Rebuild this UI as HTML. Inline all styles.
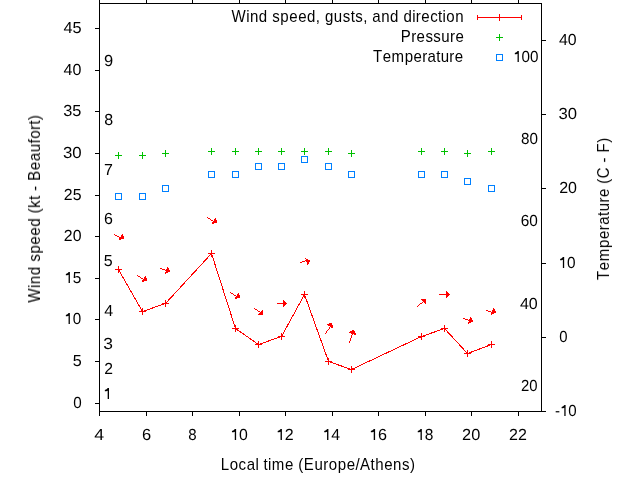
<!DOCTYPE html>
<html><head><meta charset="utf-8"><style>
html,body{margin:0;padding:0;background:#fff;width:640px;height:480px;overflow:hidden}
svg{display:block}
text{font-family:"Liberation Sans",sans-serif;font-size:16px;fill:#000;font-kerning:none}
.g,.g text{text-rendering:geometricPrecision}
.t{opacity:0.999}
</style></head><body>
<svg width="640" height="480" viewBox="0 0 640 480">
<rect width="640" height="480" fill="#fff"/>
<g shape-rendering="crispEdges">
<rect x="99" y="3" width="443" height="1" fill="#000"/>
<rect x="99" y="411" width="443" height="1" fill="#000"/>
<rect x="99" y="3" width="1" height="409" fill="#000"/>
<rect x="541" y="3" width="1" height="409" fill="#000"/>
<rect x="99" y="412" width="1" height="4" fill="#000"/>
<rect x="99" y="0" width="1" height="3" fill="#000"/>
<rect x="146" y="412" width="1" height="4" fill="#000"/>
<rect x="146" y="0" width="1" height="3" fill="#000"/>
<rect x="192" y="412" width="1" height="4" fill="#000"/>
<rect x="192" y="0" width="1" height="3" fill="#000"/>
<rect x="239" y="412" width="1" height="4" fill="#000"/>
<rect x="239" y="0" width="1" height="3" fill="#000"/>
<rect x="285" y="412" width="1" height="4" fill="#000"/>
<rect x="285" y="0" width="1" height="3" fill="#000"/>
<rect x="332" y="412" width="1" height="4" fill="#000"/>
<rect x="332" y="0" width="1" height="3" fill="#000"/>
<rect x="378" y="412" width="1" height="4" fill="#000"/>
<rect x="378" y="0" width="1" height="3" fill="#000"/>
<rect x="425" y="412" width="1" height="4" fill="#000"/>
<rect x="425" y="0" width="1" height="3" fill="#000"/>
<rect x="471" y="412" width="1" height="4" fill="#000"/>
<rect x="471" y="0" width="1" height="3" fill="#000"/>
<rect x="518" y="412" width="1" height="4" fill="#000"/>
<rect x="518" y="0" width="1" height="3" fill="#000"/>
<rect x="95" y="403" width="4" height="1" fill="#000"/>
<rect x="95" y="361" width="4" height="1" fill="#000"/>
<rect x="95" y="319" width="4" height="1" fill="#000"/>
<rect x="95" y="278" width="4" height="1" fill="#000"/>
<rect x="95" y="236" width="4" height="1" fill="#000"/>
<rect x="95" y="195" width="4" height="1" fill="#000"/>
<rect x="95" y="153" width="4" height="1" fill="#000"/>
<rect x="95" y="111" width="4" height="1" fill="#000"/>
<rect x="95" y="70" width="4" height="1" fill="#000"/>
<rect x="95" y="28" width="4" height="1" fill="#000"/>
<rect x="542" y="411" width="4" height="1" fill="#000"/>
<rect x="542" y="337" width="4" height="1" fill="#000"/>
<rect x="542" y="263" width="4" height="1" fill="#000"/>
<rect x="542" y="188" width="4" height="1" fill="#000"/>
<rect x="542" y="114" width="4" height="1" fill="#000"/>
<rect x="542" y="40" width="4" height="1" fill="#000"/>
<rect x="477" y="17" width="45" height="1" fill="#ff0000"/>
<rect x="477" y="15" width="1" height="5" fill="#ff0000"/>
<rect x="521" y="15" width="1" height="5" fill="#ff0000"/>
<rect x="499" y="14" width="1" height="7" fill="#ff0000"/>
</g>
<g>
<polyline points="118.5,269.5 142.5,311.5 165.5,303.5 211.5,253.5 235.5,328.5 258.5,344.5 281.5,336.5 304.5,294.5 328.5,361.5 351.5,369.5 421.5,336.5 444.5,328.5 467.5,353.5 491.5,344.5" fill="none" stroke="#ff0000" stroke-width="1" shape-rendering="crispEdges"/>
<rect x="115" y="269" width="7" height="1" fill="#ff0000"/><rect x="118" y="266" width="1" height="7" fill="#ff0000"/>
<rect x="139" y="311" width="7" height="1" fill="#ff0000"/><rect x="142" y="308" width="1" height="7" fill="#ff0000"/>
<rect x="162" y="303" width="7" height="1" fill="#ff0000"/><rect x="165" y="300" width="1" height="7" fill="#ff0000"/>
<rect x="208" y="253" width="7" height="1" fill="#ff0000"/><rect x="211" y="250" width="1" height="7" fill="#ff0000"/>
<rect x="232" y="328" width="7" height="1" fill="#ff0000"/><rect x="235" y="325" width="1" height="7" fill="#ff0000"/>
<rect x="255" y="344" width="7" height="1" fill="#ff0000"/><rect x="258" y="341" width="1" height="7" fill="#ff0000"/>
<rect x="278" y="336" width="7" height="1" fill="#ff0000"/><rect x="281" y="333" width="1" height="7" fill="#ff0000"/>
<rect x="301" y="294" width="7" height="1" fill="#ff0000"/><rect x="304" y="291" width="1" height="7" fill="#ff0000"/>
<rect x="325" y="361" width="7" height="1" fill="#ff0000"/><rect x="328" y="358" width="1" height="7" fill="#ff0000"/>
<rect x="348" y="369" width="7" height="1" fill="#ff0000"/><rect x="351" y="366" width="1" height="7" fill="#ff0000"/>
<rect x="418" y="336" width="7" height="1" fill="#ff0000"/><rect x="421" y="333" width="1" height="7" fill="#ff0000"/>
<rect x="441" y="328" width="7" height="1" fill="#ff0000"/><rect x="444" y="325" width="1" height="7" fill="#ff0000"/>
<rect x="464" y="353" width="7" height="1" fill="#ff0000"/><rect x="467" y="350" width="1" height="7" fill="#ff0000"/>
<rect x="488" y="344" width="7" height="1" fill="#ff0000"/><rect x="491" y="341" width="1" height="7" fill="#ff0000"/>
<rect x="115" y="155" width="7" height="1" fill="#00c000"/><rect x="118" y="152" width="1" height="7" fill="#00c000"/>
<rect x="139" y="155" width="7" height="1" fill="#00c000"/><rect x="142" y="152" width="1" height="7" fill="#00c000"/>
<rect x="162" y="153" width="7" height="1" fill="#00c000"/><rect x="165" y="150" width="1" height="7" fill="#00c000"/>
<rect x="208" y="151" width="7" height="1" fill="#00c000"/><rect x="211" y="148" width="1" height="7" fill="#00c000"/>
<rect x="232" y="151" width="7" height="1" fill="#00c000"/><rect x="235" y="148" width="1" height="7" fill="#00c000"/>
<rect x="255" y="151" width="7" height="1" fill="#00c000"/><rect x="258" y="148" width="1" height="7" fill="#00c000"/>
<rect x="278" y="151" width="7" height="1" fill="#00c000"/><rect x="281" y="148" width="1" height="7" fill="#00c000"/>
<rect x="301" y="151" width="7" height="1" fill="#00c000"/><rect x="304" y="148" width="1" height="7" fill="#00c000"/>
<rect x="325" y="151" width="7" height="1" fill="#00c000"/><rect x="328" y="148" width="1" height="7" fill="#00c000"/>
<rect x="348" y="153" width="7" height="1" fill="#00c000"/><rect x="351" y="150" width="1" height="7" fill="#00c000"/>
<rect x="418" y="151" width="7" height="1" fill="#00c000"/><rect x="421" y="148" width="1" height="7" fill="#00c000"/>
<rect x="441" y="151" width="7" height="1" fill="#00c000"/><rect x="444" y="148" width="1" height="7" fill="#00c000"/>
<rect x="464" y="153" width="7" height="1" fill="#00c000"/><rect x="467" y="150" width="1" height="7" fill="#00c000"/>
<rect x="488" y="151" width="7" height="1" fill="#00c000"/><rect x="491" y="148" width="1" height="7" fill="#00c000"/>
<rect x="115.5" y="193.5" width="6" height="6" fill="none" stroke="#0080ff"/>
<rect x="139.5" y="193.5" width="6" height="6" fill="none" stroke="#0080ff"/>
<rect x="162.5" y="185.5" width="6" height="6" fill="none" stroke="#0080ff"/>
<rect x="208.5" y="171.5" width="6" height="6" fill="none" stroke="#0080ff"/>
<rect x="232.5" y="171.5" width="6" height="6" fill="none" stroke="#0080ff"/>
<rect x="255.5" y="163.5" width="6" height="6" fill="none" stroke="#0080ff"/>
<rect x="278.5" y="163.5" width="6" height="6" fill="none" stroke="#0080ff"/>
<rect x="301.5" y="156.5" width="6" height="6" fill="none" stroke="#0080ff"/>
<rect x="325.5" y="163.5" width="6" height="6" fill="none" stroke="#0080ff"/>
<rect x="348.5" y="171.5" width="6" height="6" fill="none" stroke="#0080ff"/>
<rect x="418.5" y="171.5" width="6" height="6" fill="none" stroke="#0080ff"/>
<rect x="441.5" y="171.5" width="6" height="6" fill="none" stroke="#0080ff"/>
<rect x="464.5" y="178.5" width="6" height="6" fill="none" stroke="#0080ff"/>
<rect x="488.5" y="185.5" width="6" height="6" fill="none" stroke="#0080ff"/>
<path fill="#ff0000" d="M114 234h1v1h-1zM122 234h1v1h-1zM115 235h2v1h-2zM121 235h2v1h-2zM117 236h2v1h-2zM121 236h3v1h-3zM119 237h5v1h-5zM119 238h5v1h-5zM119 239h2v1h-2zM137 275h1v1h-1zM138 276h2v1h-2zM145 276h1v1h-1zM140 277h1v1h-1zM144 277h2v1h-2zM141 278h2v1h-2zM144 278h3v1h-3zM143 279h4v1h-4zM142 280h5v1h-5zM142 281h2v1h-2zM167 267h1v1h-1zM160 268h2v1h-2zM167 268h2v1h-2zM162 269h3v1h-3zM166 269h3v1h-3zM165 270h5v1h-5zM166 271h4v1h-4zM165 272h3v1h-3zM165 273h1v1h-1zM207 217h1v1h-1zM208 218h2v1h-2zM215 218h1v1h-1zM210 219h1v1h-1zM214 219h2v1h-2zM211 220h2v1h-2zM214 220h3v1h-3zM213 221h4v1h-4zM212 222h5v1h-5zM212 223h2v1h-2zM230 292h1v1h-1zM231 293h2v1h-2zM238 293h1v1h-1zM233 294h1v1h-1zM237 294h2v1h-2zM234 295h2v1h-2zM237 295h3v1h-3zM236 296h4v1h-4zM235 297h5v1h-5zM235 298h2v1h-2zM254 308h1v1h-1zM255 309h2v1h-2zM257 310h1v1h-1zM262 310h1v1h-1zM258 311h2v1h-2zM261 311h2v1h-2zM260 312h3v1h-3zM259 313h4v1h-4zM258 314h5v1h-5zM283 300h1v1h-1zM283 301h2v1h-2zM283 302h3v1h-3zM277 303h10v1h-10zM283 304h3v1h-3zM283 305h2v1h-2zM283 306h1v1h-1zM305 258h1v1h-1zM306 259h2v1h-2zM305 260h5v1h-5zM302 261h3v1h-3zM306 261h4v1h-4zM300 262h2v1h-2zM307 262h2v1h-2zM307 263h2v1h-2zM307 264h1v1h-1zM329 323h3v1h-3zM327 324h5v1h-5zM328 325h5v1h-5zM330 326h3v1h-3zM329 327h1v1h-1zM331 327h2v1h-2zM329 328h1v1h-1zM328 329h1v1h-1zM327 330h1v1h-1zM326 331h1v1h-1zM326 332h1v1h-1zM325 333h1v1h-1zM352 330h2v1h-2zM350 331h5v1h-5zM349 332h6v1h-6zM351 333h5v1h-5zM352 334h1v1h-1zM354 334h2v1h-2zM351 335h1v1h-1zM351 336h1v1h-1zM351 337h1v1h-1zM350 338h1v1h-1zM350 339h1v1h-1zM350 340h1v1h-1zM349 341h1v1h-1zM349 342h1v1h-1zM421 299h5v1h-5zM422 300h4v1h-4zM423 301h3v1h-3zM422 302h1v1h-1zM424 302h2v1h-2zM420 303h2v1h-2zM425 303h1v1h-1zM419 304h1v1h-1zM418 305h1v1h-1zM417 306h1v1h-1zM446 291h1v1h-1zM446 292h2v1h-2zM446 293h3v1h-3zM439 294h11v1h-11zM446 295h3v1h-3zM446 296h2v1h-2zM446 297h1v1h-1zM470 317h1v1h-1zM463 318h2v1h-2zM470 318h2v1h-2zM465 319h3v1h-3zM469 319h3v1h-3zM468 320h5v1h-5zM469 321h4v1h-4zM468 322h3v1h-3zM468 323h1v1h-1zM493 308h1v1h-1zM493 309h2v1h-2zM486 310h2v1h-2zM492 310h3v1h-3zM488 311h3v1h-3zM492 311h4v1h-4zM491 312h5v1h-5zM491 313h3v1h-3zM491 314h1v1h-1z"/>
<rect x="496" y="37" width="7" height="1" fill="#00c000"/><rect x="499" y="34" width="1" height="7" fill="#00c000"/>
<rect x="496.5" y="54.5" width="6" height="6" fill="none" stroke="#0080ff"/>
</g>
<g class="t">
<text class="g" transform="matrix(0.95 0 0 1 73.19 408)">0</text>
<text class="g" transform="matrix(1.01 0 0 1 72.71 366)">5</text>
<g class="g" transform="matrix(0.95 0 0 1 64.2 324)"><path transform="translate(0 0)" d="M5.96 0H4.6V-8.3Q3.3 -7.8 1.74 -7.7V-8.95Q3.7 -9.3 4.7 -11.0H5.96Z"/><text class="g" x="8.9">0</text></g>
<g class="g" transform="matrix(0.96 0 0 1 64.18 283)"><path transform="translate(0 0)" d="M5.96 0H4.6V-8.3Q3.3 -7.8 1.74 -7.7V-8.95Q3.7 -9.3 4.7 -11.0H5.96Z"/><text class="g" x="8.9">5</text></g>
<text class="g" transform="matrix(0.99 0 0 1 63.86 241)">20</text>
<text class="g" transform="matrix(0.99 0 0 1 63.85 200)">25</text>
<text class="g" transform="matrix(1.05 0 0 1 62.97 158)">30</text>
<text class="g" transform="matrix(1.02 0 0 1 63.2 116)">35</text>
<text class="g" transform="matrix(1 0 0 1 63.6 75)">40</text>
<text class="g" transform="matrix(1.02 0 0 1 63.38 33)">45</text>
<g class="g" transform="matrix(0.94 0 0 1 554.98 416)"><text class="g" x="0">-</text><path transform="translate(5.33 0)" d="M5.96 0H4.6V-8.3Q3.3 -7.8 1.74 -7.7V-8.95Q3.7 -9.3 4.7 -11.0H5.96Z"/><text x="14.23">0</text></g>
<text class="g" transform="matrix(0.93 0 0 1 559.31 342)">0</text>
<g class="g" transform="matrix(0.96 0 0 1 558.45 268)"><path transform="translate(0 0)" d="M5.96 0H4.6V-8.3Q3.3 -7.8 1.74 -7.7V-8.95Q3.7 -9.3 4.7 -11.0H5.96Z"/><text class="g" x="8.9">0</text></g>
<text class="g" transform="matrix(1 0 0 1 559.14 193)">20</text>
<text class="g" transform="matrix(1.04 0 0 1 558.57 119)">30</text>
<text class="g" transform="matrix(0.99 0 0 1 558.93 45)">40</text>
<text class="g" transform="matrix(0.93 0 0 1 521.05 391)">20</text>
<text class="g" transform="matrix(1 0 0 1 519.96 309)">40</text>
<text class="g" transform="matrix(0.96 0 0 1 520.68 226)">60</text>
<text class="g" transform="matrix(0.95 0 0 1 520.94 144)">80</text>
<g class="g" transform="matrix(0.95 0 0 1 513.17 62)"><path transform="translate(0 0)" d="M5.96 0H4.6V-8.3Q3.3 -7.8 1.74 -7.7V-8.95Q3.7 -9.3 4.7 -11.0H5.96Z"/><text class="g" x="8.9">0</text><text x="17.8">0</text></g>
<text class="g" transform="matrix(1.11 0 0 1 94.35 440)">4</text>
<text class="g" transform="matrix(1.03 0 0 1 141.94 440)">6</text>
<text class="g" transform="matrix(0.94 0 0 1 188.14 440)">8</text>
<g class="g" transform="matrix(0.99 0 0 1 230.22 440)"><path transform="translate(0 0)" d="M5.96 0H4.6V-8.3Q3.3 -7.8 1.74 -7.7V-8.95Q3.7 -9.3 4.7 -11.0H5.96Z"/><text class="g" x="8.9">0</text></g>
<g class="g" transform="matrix(1 0 0 1 275.95 440)"><path transform="translate(0 0)" d="M5.96 0H4.6V-8.3Q3.3 -7.8 1.74 -7.7V-8.95Q3.7 -9.3 4.7 -11.0H5.96Z"/><text class="g" x="8.9">2</text></g>
<g class="g" transform="matrix(0.99 0 0 1 322.5 440)"><path transform="translate(0 0)" d="M5.96 0H4.6V-8.3Q3.3 -7.8 1.74 -7.7V-8.95Q3.7 -9.3 4.7 -11.0H5.96Z"/><text class="g" x="8.9">4</text></g>
<g class="g" transform="matrix(1.01 0 0 1 369.08 440)"><path transform="translate(0 0)" d="M5.96 0H4.6V-8.3Q3.3 -7.8 1.74 -7.7V-8.95Q3.7 -9.3 4.7 -11.0H5.96Z"/><text class="g" x="8.9">6</text></g>
<g class="g" transform="matrix(0.97 0 0 1 416.06 440)"><path transform="translate(0 0)" d="M5.96 0H4.6V-8.3Q3.3 -7.8 1.74 -7.7V-8.95Q3.7 -9.3 4.7 -11.0H5.96Z"/><text class="g" x="8.9">8</text></g>
<text class="g" transform="matrix(1.02 0 0 1 462.1 440)">20</text>
<text class="g" transform="matrix(1 0 0 1 508.99 440)">22</text>
<g class="g" transform="matrix(0.99 0 0 1 103.11 399)"><path transform="translate(0 0)" d="M5.96 0H4.6V-8.3Q3.3 -7.8 1.74 -7.7V-8.95Q3.7 -9.3 4.7 -11.0H5.96Z"/></g>
<text class="g" transform="matrix(0.98 0 0 1 104.23 374)">2</text>
<text class="g" transform="matrix(1.09 0 0 1 103.13 349)">3</text>
<text class="g" transform="matrix(1 0 0 1 104.18 316)">4</text>
<text class="g" transform="matrix(1 0 0 1 103.68 266)">5</text>
<text class="g" transform="matrix(1 0 0 1 103.93 224)">6</text>
<text class="g" transform="matrix(1 0 0 1 103.95 175)">7</text>
<text class="g" transform="matrix(1 0 0 1 104.13 125)">8</text>
<text class="g" transform="matrix(1.03 0 0 1 104.03 66)">9</text>
<text transform="matrix(0.94 0 0 1 231.43 22)" x="0 15.73 19.71 29.2 38.55 43.42 51.99 61.49 70.99 80.49 89.83 94.58 99.48 108.97 118.44 126.86 131.73 140.15 144.89 149.79 159.29 168.79 178.14 183.03 192.35 196.2 202.01 211.48 219.9 224.62 228.59 238.09">Wind speed, gusts, and direction</text>
<text transform="matrix(0.94 0 0 1 400.76 42)" x="0 11.12 16.85 26.22 34.67 43.14 52.44 58.17">Pressure</text>
<text transform="matrix(0.94 0 0 1 373.11 62)" x="0 10.24 19.7 33.58 42.93 52.18 57.87 67.1 71.88 81.14 86.82">Temperature</text>
<text transform="matrix(0.94 0 0 1 220.76 470)" x="0 9.5 18.98 27.55 36.87 40.7 45.45 50.16 54.29 68.37 77.73 82.5 88.38 99.71 109.09 114.91 124.41 133.91 143.26 148.22 159.41 164.31 173.81 183.31 192.79 201.24">Local time (Europe/Athens)</text>
<text transform="matrix(0 -0.94 1 0 40 302.62)" x="0 15.78 19.79 29.34 38.72 43.62 52.24 61.78 71.33 80.88 90.26 95.07 100.88 109.33 114.1 118.9 124.59 129.58 140.97 150.52 160.06 169.45 174.38 183.8 189.48 194.28">Wind speed (kt - Beaufort)</text>
<text transform="matrix(0 -0.94 1 0 609 280.08)" x="0 10.4 20.05 34.13 43.62 53 58.81 68.16 73.05 82.43 88.23 97.58 102.36 108.25 120.35 125.12 130.78 135.7 145.98">Temperature (C - F)</text>
</g>
</svg>
</body></html>
